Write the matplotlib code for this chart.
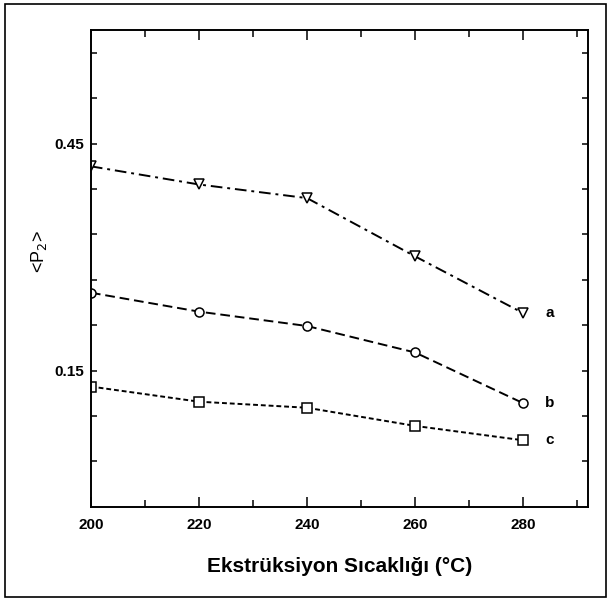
import matplotlib

matplotlib.use("Agg")
import matplotlib.pyplot as plt
from matplotlib.patches import Rectangle
from matplotlib.ticker import FixedLocator, MultipleLocator

plt.rcParams["font.family"] = ["Liberation Sans", "DejaVu Sans"]

temperatures = [200, 220, 240, 260, 280]
series_a = [0.420, 0.396, 0.378, 0.301, 0.226]
series_b = [0.253, 0.228, 0.209, 0.174, 0.107]
series_c = [0.129, 0.109, 0.101, 0.077, 0.058]
series_names = ["a", "b", "c"]

x_ticks = [200, 220, 240, 260, 280]
y_ticks = [0.03, 0.09, 0.15, 0.21, 0.27, 0.33, 0.39, 0.45, 0.51, 0.57]
y_tick_labels = ["", "", "0.15", "", "", "", "", "0.45", "", ""]

fig = plt.figure(figsize=(6.10, 6.02), dpi=100)
fig.patches.append(Rectangle((0.008, 0.008), 0.985, 0.985, transform=fig.transFigure,
                             fill=False, edgecolor="black", linewidth=1.2))
ax = fig.add_axes([0.149, 0.158, 0.815, 0.792])

styles = [
    ("v", (0, (6, 2.5, 1.5, 2.5))),
    ("o", (0, (5, 2.5))),
    ("s", (0, (2.5, 1.5))),
]
for values, (marker, ls) in zip([series_a, series_b, series_c], styles):
    ax.plot(temperatures, values, color="black", linestyle=ls, linewidth=1.4,
            marker=marker, markersize=6.5, markerfacecolor="white",
            markeredgecolor="black", markeredgewidth=1.1)

for name, values in zip(series_names, [series_a, series_b, series_c]):
    ax.annotate(name, (temperatures[-1], values[-1]), xytext=(19, 0),
                textcoords="offset points", ha="center", va="center",
                fontsize=11, fontweight="bold")

ax.set_xlim(200, 292)
ax.set_ylim(-0.03, 0.60)
ax.set_xticks(x_ticks)
ax.xaxis.set_minor_locator(MultipleLocator(10))
ax.yaxis.set_major_locator(FixedLocator(y_ticks))
ax.set_yticklabels(y_tick_labels)
ax.tick_params(which="both", direction="in", top=True, right=True,
               labelsize=11, width=1.1)
ax.tick_params(axis="x", which="major", length=7, pad=8)
ax.tick_params(axis="x", which="minor", length=5)
ax.tick_params(axis="y", which="major", length=4, pad=5)
for label in ax.get_xticklabels() + ax.get_yticklabels():
    label.set_fontweight("bold")
for spine in ax.spines.values():
    spine.set_linewidth(1.4)

ax.set_xlabel("Ekstrüksiyon Sıcaklığı (°C)", fontsize=15, fontweight="bold", labelpad=18)
ax.set_ylabel(r"<P$_2$>", fontsize=13)
ax.yaxis.set_label_coords(-0.085, 0.535)

fig.savefig("out.png", dpi=100)
